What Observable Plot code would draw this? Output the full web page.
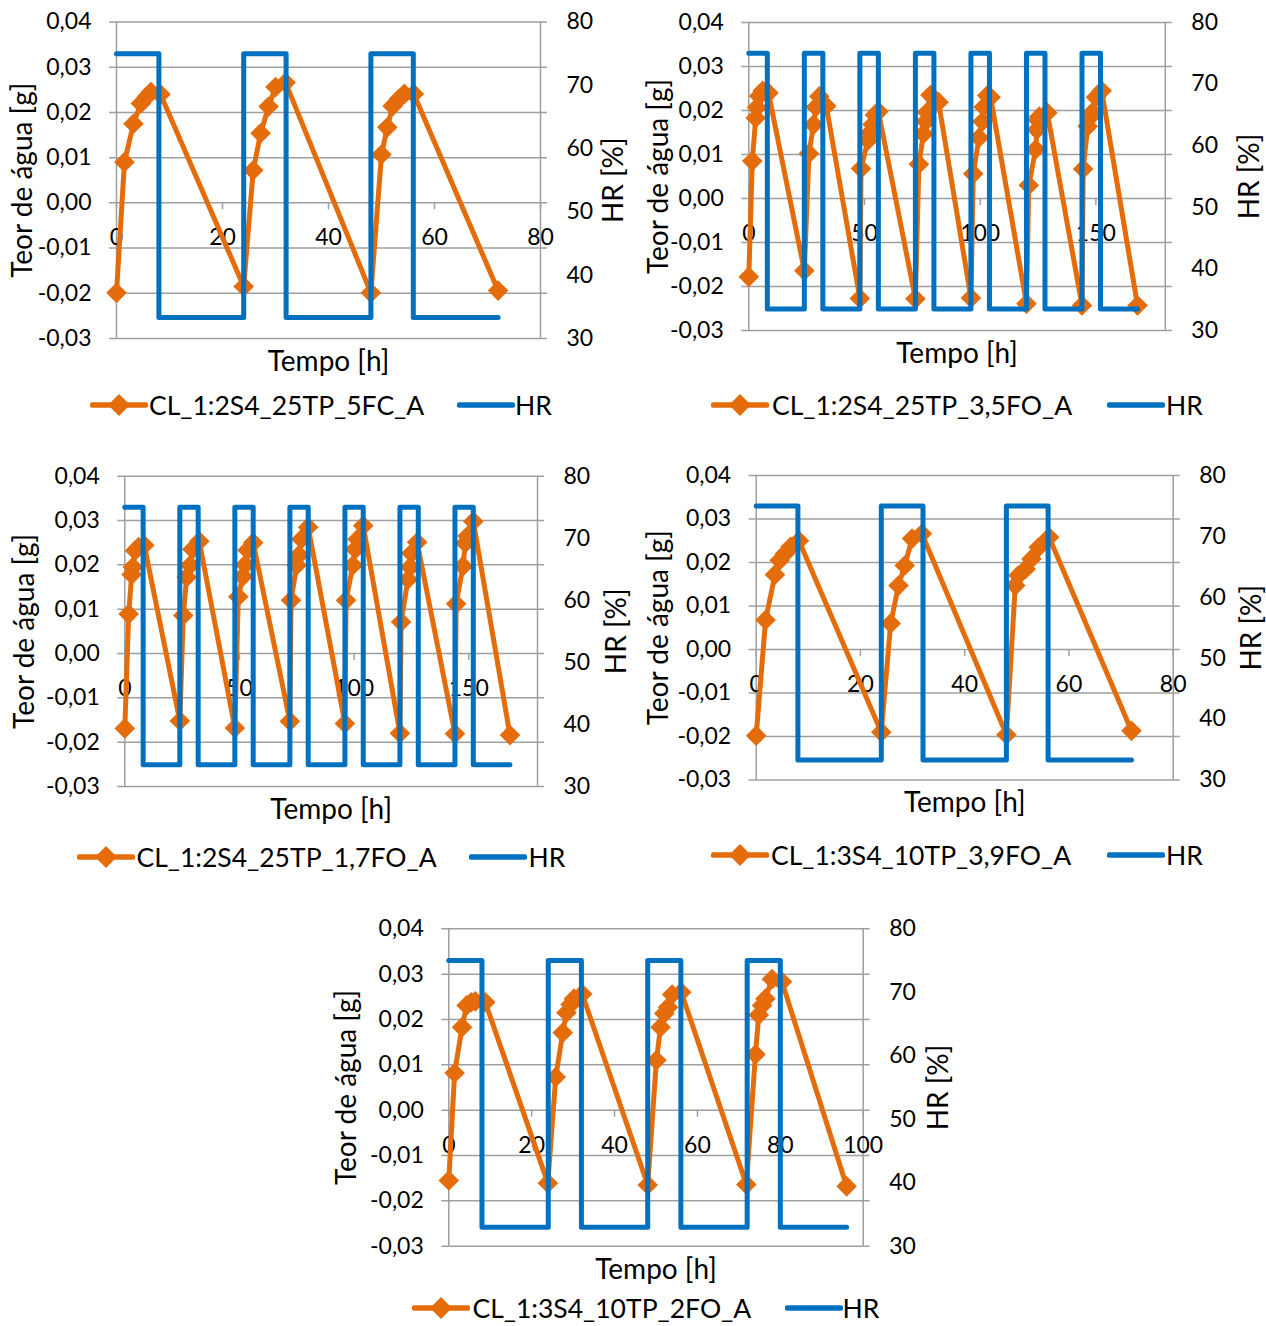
<!DOCTYPE html>
<html>
<head>
<meta charset="utf-8">
<script src="https://cdn.jsdelivr.net/npm/d3@7"></script>
<script src="https://cdn.jsdelivr.net/npm/@observablehq/plot@0.6"></script>
<style>
  body { margin: 0; background: #fff; }
  #page { position: relative; width: 1266px; height: 1326px; font-family: Lato, sans-serif; color: #000; }
  .chart { position: absolute; }
  .chart svg { overflow: visible; }
  .sw { position: absolute; }
  .lg { position: absolute; font-size: 26.5px; line-height: 30px; white-space: nowrap; }
</style>
</head>
<body>
<div id="page"></div>
<script>
const laranja = "#E46C0A";
const azul = "#0070C0";
const cinza = "#9f9f9f";

// Eixos
const teorTicks = [-0.03, -0.02, -0.01, 0, 0.01, 0.02, 0.03, 0.04];
const hrTicks = [30, 40, 50, 60, 70, 80];
const tempoTicks80 = [0, 20, 40, 60, 80];
const tempoTicks100 = [0, 20, 40, 60, 80, 100];
const tempoTicks180 = [0, 50, 100, 150];

// CL_1:2S4_25TP_5FC_A
const tempo1 = [0, 1.5, 3.2, 4.6, 5.8, 6.5, 8.3, 24, 25.8, 27.2, 28.7, 30, 31.9, 48, 50, 51.1, 52.1, 53.3, 54.3, 56.1, 72];
const teor1 = [-0.0199, 0.009, 0.0175, 0.022, 0.0236, 0.0245, 0.024, -0.0185, 0.0072, 0.0154, 0.0213, 0.0256, 0.0266, -0.0199, 0.0107, 0.0167, 0.0214, 0.023, 0.0241, 0.0241, -0.0194];
const hrTempo1 = [0, 8, 24, 32, 48, 56, 72];
const hrValor1 = [75, 33.3, 75, 33.3, 75, 33.3, 33.3];

// CL_1:2S4_25TP_3,5FO_A
const tempo2 = [0, 1.5, 3, 3.5, 4.5, 6, 8.5,
  24, 26, 28, 29, 30.5, 33.5,
  48, 48.5, 51.5, 52.5, 53.5, 54.5, 56,
  72, 73.5, 75.5, 76.5, 77, 78.5, 82,
  96, 97, 99.5, 101, 101.5, 103, 104.5,
  120, 121, 124, 124.5, 125, 125.5, 129,
  144, 144.5, 146.5, 147.5, 148.5, 150, 152.5,
  168];
const teor2 = [-0.0178, 0.0085, 0.0183, 0.0207, 0.0233, 0.0245, 0.024,
  -0.0164, 0.0102, 0.0168, 0.0208, 0.0232, 0.021,
  -0.0227, 0.0068, 0.0132, 0.015, 0.0168, 0.019, 0.0198,
  -0.0228, 0.0078, 0.0147, 0.0175, 0.0196, 0.0235, 0.0219,
  -0.0226, 0.0056, 0.0138, 0.0175, 0.0208, 0.0234, 0.023,
  -0.0239, 0.003, 0.0112, 0.0156, 0.0178, 0.0186, 0.0195,
  -0.0243, 0.0067, 0.0164, 0.0185, 0.0196, 0.023, 0.0245,
  -0.0243];
const hrTempo2 = [0, 8, 24, 32, 48, 56, 72, 80, 96, 104, 120, 128, 144, 152, 168];
const hrValor2 = [75, 33.5, 75, 33.5, 75, 33.5, 75, 33.5, 75, 33.5, 75, 33.5, 75, 33.5, 33.5];

// CL_1:2S4_25TP_1,7FO_A
const tempo3 = [0, 1.7, 3, 3.5, 4.5, 6, 8.5,
  24, 25.5, 27, 28.5, 29.5, 32.5,
  48, 49.5, 51.5, 52.5, 53.5, 56,
  72, 72.5, 75, 76, 77, 80,
  96, 96.5, 99.5, 100.5, 101.5, 104,
  120, 120.5, 123.5, 124.5, 125, 127.5,
  144, 144.5, 147.5, 148.5, 149.5, 152,
  168];
const teor3 = [-0.0169, 0.0089, 0.0178, 0.0195, 0.0232, 0.024, 0.0244,
  -0.0152, 0.0086, 0.0172, 0.0199, 0.0235, 0.0253,
  -0.0168, 0.0128, 0.0174, 0.02, 0.0233, 0.025,
  -0.0153, 0.012, 0.0199, 0.0222, 0.0258, 0.0285,
  -0.0158, 0.012, 0.0199, 0.0235, 0.0258, 0.0288,
  -0.018, 0.0071, 0.0167, 0.0195, 0.0226, 0.0251,
  -0.0181, 0.0112, 0.0197, 0.0249, 0.0265, 0.0298,
  -0.0184];
const hrTempo3 = [0, 8, 24, 32, 48, 56, 72, 80, 96, 104, 120, 128, 144, 152, 168];
const hrValor3 = [75, 33.5, 75, 33.5, 75, 33.5, 75, 33.5, 75, 33.5, 75, 33.5, 75, 33.5, 33.5];

// CL_1:3S4_10TP_3,9FO_A
const tempo4 = [0, 1.8, 3.6, 4.5, 5.5, 6.6, 8.2, 24, 25.8, 27.3, 28.5, 29.9, 31.8, 48, 49.7, 50.3, 51.7, 52.8, 54.2, 56.2, 72];
const teor4 = [-0.0198, 0.0068, 0.0172, 0.0205, 0.022, 0.0236, 0.025, -0.019, 0.006, 0.0147, 0.0193, 0.0255, 0.0266, -0.0196, 0.0147, 0.017, 0.0185, 0.0208, 0.0235, 0.0258, -0.0187];
const hrTempo4 = [0, 8, 24, 32, 48, 56, 72];
const hrValor4 = [75, 33.3, 75, 33.3, 75, 33.3, 33.3];

// CL_1:3S4_10TP_2FO_A
const tempo5 = [0, 1.4, 3.2, 4.3, 5.4, 6.4, 8.8,
  23.9, 25.8, 27.5, 28.4, 29.4, 30.2, 32.2,
  48, 50.1, 51.1, 52, 52.9, 53.9, 56.1,
  71.8, 74, 74.8, 75.6, 76.4, 78, 80.4,
  96];
const teor5 = [-0.0155, 0.0082, 0.0183, 0.0231, 0.0238, 0.024, 0.0238,
  -0.0161, 0.0073, 0.0171, 0.0215, 0.0233, 0.0246, 0.0256,
  -0.0165, 0.011, 0.0183, 0.0213, 0.0227, 0.0255, 0.026,
  -0.0164, 0.0123, 0.021, 0.0231, 0.0246, 0.0289, 0.0283,
  -0.0168];
const hrTempo5 = [0, 8, 24, 32, 48, 56, 72, 80, 96];
const hrValor5 = [75, 33, 75, 33, 75, 33, 75, 33, 33];

// HR (30–80 %) drawn against the water-content scale (-0,03–0,04 g)
const hrParaTeor = hr => -0.03 + (hr - 30) * 0.07 / 50;
const teorParaHr = v => 30 + (v + 0.03) * 50 / 0.07;
const fmtTeor = v => (v < -1e-9 ? "-" : "") + Math.abs(v).toFixed(2).replace(".", ",");

const graficos = [
  {nome: "CL_1:2S4_25TP_5FC_A", tempo: tempo1, teor: teor1, hrTempo: hrTempo1, hrValor: hrValor1,
   xMax: 80, xTicks: tempoTicks80, box: [0, 0, 640, 385], frame: [116, 540, 21.5, 338],
   titulos: [22.5, 614, 361.7], legenda: [90, 149, 457, 515, 405]},
  {nome: "CL_1:2S4_25TP_3,5FO_A", tempo: tempo2, teor: teor2, hrTempo: hrTempo2, hrValor: hrValor2,
   xMax: 180, xTicks: tempoTicks180, box: [633, 0, 633, 385], frame: [748.3, 1164.8, 22, 330],
   titulos: [658.6, 1250, 353.3], legenda: [711, 772, 1107, 1166, 405]},
  {nome: "CL_1:2S4_25TP_1,7FO_A", tempo: tempo3, teor: teor3, hrTempo: hrTempo3, hrValor: hrValor3,
   xMax: 180, xTicks: tempoTicks180, box: [0, 450, 640, 385], frame: [124.3, 537, 475.7, 786],
   titulos: [24.6, 617, 810], legenda: [77, 136.5, 469, 528.5, 856.7]},
  {nome: "CL_1:3S4_10TP_3,9FO_A", tempo: tempo4, teor: teor4, hrTempo: hrTempo4, hrValor: hrValor4,
   xMax: 80, xTicks: tempoTicks80, box: [633, 450, 633, 385], frame: [755.7, 1172.7, 475, 779.5],
   titulos: [658.6, 1252, 803], legenda: [711, 771, 1107, 1166, 855]},
  {nome: "CL_1:3S4_10TP_2FO_A", tempo: tempo5, teor: teor5, hrTempo: hrTempo5, hrValor: hrValor5,
   xMax: 100, xTicks: tempoTicks100, box: [320, 900, 640, 390], frame: [448.3, 862.7, 928.3, 1245.7],
   titulos: [346.6, 938.9, 1270], legenda: [412, 472.5, 785, 842.5, 1308]}
];

const page = document.getElementById("page");
const svgNS = "http://www.w3.org/2000/svg";

function amostraSwatch(x, y, cor, losango) {
  const s = document.createElementNS(svgNS, "svg");
  s.setAttribute("width", 58); s.setAttribute("height", 26);
  s.setAttribute("class", "sw");
  s.style.left = x + "px"; s.style.top = (y - 13) + "px";
  const l = document.createElementNS(svgNS, "line");
  l.setAttribute("x1", 2.5); l.setAttribute("x2", 55.5); l.setAttribute("y1", 13); l.setAttribute("y2", 13);
  l.setAttribute("stroke", cor); l.setAttribute("stroke-width", 5.5); l.setAttribute("stroke-linecap", "round");
  s.appendChild(l);
  if (losango) {
    const p = document.createElementNS(svgNS, "path");
    p.setAttribute("d", "M29,2L40,13L29,24L18,13Z");
    p.setAttribute("fill", cor);
    s.appendChild(p);
  }
  page.appendChild(s);
}

function rotulo(texto, x, y) {
  const d = document.createElement("div");
  d.className = "lg";
  d.textContent = texto;
  d.style.left = x + "px"; d.style.top = (y - 15) + "px";
  page.appendChild(d);
}

for (const g of graficos) {
  const [left, top, width, height] = g.box;
  const [x0, x1, y0, y1] = g.frame;
  const [tx, trx, tby] = g.titulos;
  const amostra = g.tempo.map((t, i) => ({t, v: g.teor[i]}));
  const hr = g.hrTempo.map((t, i) => ({t, hr: g.hrValor[i]}));

  const chart = Plot.plot({
    width, height,
    marginLeft: x0 - left, marginRight: left + width - x1,
    marginTop: y0 - top, marginBottom: top + height - y1,
    x: {domain: [0, g.xMax], axis: null},
    y: {domain: [-0.03, 0.04]},
    style: {fontFamily: "Lato, sans-serif", fontSize: "23px", color: "#000", background: "transparent"},
    marks: [
      // horizontal gridlines, extended past both vertical axes as tick marks
      Plot.ruleY(teorTicks, {y: d => d, stroke: cinza, strokeWidth: 1.5, insetLeft: -7, insetRight: -7}),
      // primary and secondary vertical axes
      Plot.ruleX([0, g.xMax], {x: d => d, stroke: cinza, strokeWidth: 1.5}),
      // time ticks hanging below the zero line
      Plot.ruleX(g.xTicks, {x: d => d, y1: 0, y2: 0, insetBottom: -7, stroke: cinza, strokeWidth: 1.5}),
      Plot.axisY(teorTicks, {anchor: "left", tickSize: 0, tickPadding: 25, tickFormat: fmtTeor, label: null, fontSize: 23, color: "#000"}),
      Plot.axisY(hrTicks.map(hrParaTeor), {anchor: "right", tickSize: 0, tickPadding: 26,
        tickFormat: v => String(Math.round(teorParaHr(v))), label: null, fontSize: 23, color: "#000"}),
      Plot.text(g.xTicks, {x: d => d, y: 0, dy: 35, text: d => String(d), fontSize: 23, fill: "#000"}),
      // water content
      Plot.line(amostra, {x: "t", y: "v", stroke: laranja, strokeWidth: 5}),
      Plot.dot(amostra, {x: "t", y: "v", symbol: "diamond2", r: 9.3, fill: laranja}),
      // relative humidity on the secondary axis
      Plot.line(hr, {x: "t", y: d => hrParaTeor(d.hr), curve: "step-after", stroke: azul, strokeWidth: 5}),
      // axis titles
      Plot.text(["Teor de água [g]"], {frameAnchor: "left", rotate: -90, dx: tx - x0,
        textAnchor: "middle", lineAnchor: "middle", fontSize: 28, fill: "#000"}),
      Plot.text(["HR [%]"], {frameAnchor: "right", rotate: -90, dx: trx - x1,
        textAnchor: "middle", lineAnchor: "middle", fontSize: 28, fill: "#000"}),
      Plot.text(["Tempo [h]"], {frameAnchor: "bottom", dy: tby - y1,
        textAnchor: "middle", lineAnchor: "middle", fontSize: 28, fill: "#000"})
    ]
  });
  const wrap = document.createElement("div");
  wrap.className = "chart";
  wrap.style.left = left + "px"; wrap.style.top = top + "px";
  wrap.appendChild(chart);
  page.appendChild(wrap);

  const [lx, ltx, bx, btx, ly] = g.legenda;
  amostraSwatch(lx, ly, laranja, true);
  rotulo(g.nome, ltx, ly);
  amostraSwatch(bx, ly, azul, false);
  rotulo("HR", btx, ly);
}
</script>
</body>
</html>
